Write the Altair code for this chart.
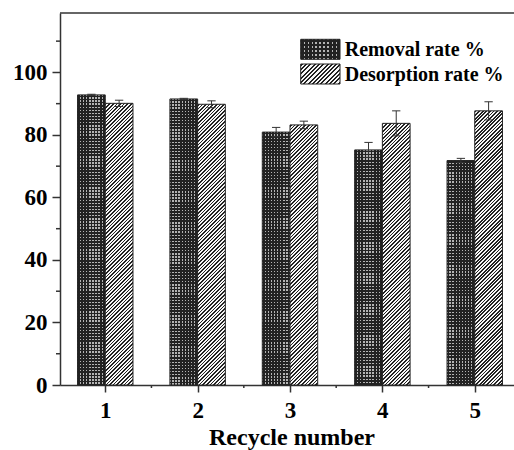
import altair as alt
import pandas as pd

# Recycling test: removal and desorption rates over five cycles
cycles = [1, 2, 3, 4, 5]
removal = [92.8, 91.5, 80.9, 75.2, 71.8]
removal_err = [0.2, 0.2, 1.5, 2.4, 0.7]
desorption = [90.1, 89.8, 83.2, 83.7, 87.7]
desorption_err = [1.0, 1.1, 1.2, 4.0, 2.9]
series_names = ["Removal rate %", "Desorption rate %"]
y_ticks = [0, 20, 40, 60, 80, 100]
y_minor = [10, 30, 50, 70, 90, 110]
x_minor = [1.5, 2.5, 3.5, 4.5]

# Layout and style
W, H = 454, 372
X_DOM = [0.51, 5.425]
Y_DOM = [0, 119]
BAR = 0.3
PX_X = W / (X_DOM[1] - X_DOM[0])
PX_Y = H / (Y_DOM[1] - Y_DOM[0])
FONT = "Liberation Serif"
AX = "#333333"
DARK = "#222222"
CHECK_LIGHT = "#b4b4b4"
HATCH_LIGHT = "#f6f6f6"
CLEAR = "rgba(0,0,0,0)"

rows = []
for i, c in enumerate(cycles):
    rows.append({"cycle": c, "series": series_names[0], "slot": 0,
                 "value": removal[i], "err": removal_err[i]})
    rows.append({"cycle": c, "series": series_names[1], "slot": 1,
                 "value": desorption[i], "err": desorption_err[i]})
df = pd.DataFrame(rows)
one = pd.DataFrame({"k": [0]})


def stripe_stops(length, period, width, dark, light):
    """Hard-edged stripe stops along a gradient of the given pixel length."""
    stops = [{"color": light, "offset": 0}]
    pos = 0.6
    while pos < length:
        a = round(pos / length, 5)
        b = round(min(pos + width, length) / length, 5)
        stops += [{"color": light, "offset": a}, {"color": dark, "offset": a},
                  {"color": dark, "offset": b}, {"color": light, "offset": b}]
        pos += period
    stops.append({"color": light, "offset": 1})
    return stops


def vertical_stripes(w, period):
    return {"gradient": "linear", "x1": 0, "y1": 0, "x2": 1, "y2": 0,
            "stops": stripe_stops(w, period, period * 0.55, DARK, CHECK_LIGHT)}


def horizontal_stripes(h, period):
    return {"gradient": "linear", "x1": 0, "y1": 0, "x2": 0, "y2": 1,
            "stops": stripe_stops(h, period, period * 0.55, DARK, CLEAR)}


def diagonal_hatch(w, h, period):
    # offset follows x + y in pixels, giving "/" lines at 45 degrees
    L = (w * w + h * h) / (w + h)
    return {"gradient": "linear", "x1": 0, "y1": 0,
            "x2": round(w / L, 6), "y2": round(h / L, 6),
            "stops": stripe_stops(w + h, period, period * 0.45, DARK, HATCH_LIGHT)}


xs = alt.Scale(domain=X_DOM, nice=False, zero=False)
ys = alt.Scale(domain=Y_DOM, nice=False, zero=False)

x_axis = alt.Axis(values=cycles, format="d", title="Recycle number", grid=False,
                  tickSize=7, tickWidth=1.5, tickColor=AX, domainColor=AX,
                  domainWidth=1.5, labelFont=FONT, labelFontWeight="bold",
                  labelFontSize=23, labelColor="black", labelPadding=7,
                  labelFlush=False, labelOverlap=False,
                  titleFont=FONT, titleFontWeight="bold", titleFontSize=24,
                  titleColor="black", titleX=231.5, titleY=59,
                  titleAlign="center", titleBaseline="alphabetic")
y_axis = alt.Axis(values=y_ticks, format="d", title="", grid=False,
                  tickSize=8, tickWidth=1.5, tickColor=AX, domainColor=AX,
                  domainWidth=1.5, labelFont=FONT, labelFontWeight="bold",
                  labelFontSize=23, labelColor="black", labelPadding=5,
                  labelFlush=False, labelOverlap=False)

base = alt.Chart(df).transform_calculate(
    x0="datum.cycle + (datum.slot - 1) * %f" % BAR,
    x1="datum.cycle + datum.slot * %f" % BAR,
    xc="datum.cycle + (datum.slot - 0.5) * %f" % BAR,
    cl="datum.cycle + (datum.slot - 0.5) * %f - 0.045" % BAR,
    cr="datum.cycle + (datum.slot - 0.5) * %f + 0.045" % BAR,
    lo="datum.value - datum.err",
    hi="datum.value + datum.err",
)

layers = []
bar_w = BAR * PX_X
for i, c in enumerate(cycles):
    for s, name in enumerate(series_names):
        val = removal[i] if s == 0 else desorption[i]
        h = val * PX_Y
        sel = base.transform_filter(
            (alt.datum.cycle == c) & (alt.datum.series == name))
        enc = dict(x=alt.X("x0:Q", scale=xs, axis=x_axis),
                   x2="x1:Q",
                   y=alt.Y("value:Q", scale=ys, axis=y_axis),
                   y2=alt.datum(0))
        if s == 0:
            layers.append(sel.mark_rect(fill=vertical_stripes(bar_w, 3.1),
                                        strokeWidth=0).encode(**enc))
            layers.append(sel.mark_rect(fill=horizontal_stripes(h, 3.1),
                                        stroke=DARK, strokeWidth=1).encode(**enc))
        else:
            layers.append(sel.mark_rect(fill=diagonal_hatch(bar_w, h, 3.6),
                                        stroke=DARK, strokeWidth=1).encode(**enc))

# Error bars with caps
layers.append(base.mark_rule(stroke=AX, strokeWidth=1).encode(
    x=alt.X("xc:Q", scale=xs, axis=x_axis),
    y=alt.Y("lo:Q", scale=ys, axis=y_axis), y2="hi:Q"))
for end in ["hi", "lo"]:
    layers.append(base.mark_rule(stroke=AX, strokeWidth=1).encode(
        x=alt.X("cl:Q", scale=xs, axis=x_axis), x2="cr:Q",
        y=alt.Y(end + ":Q", scale=ys, axis=y_axis)))

# Minor ticks
layers.append(alt.Chart(pd.DataFrame({"m": x_minor})).mark_rule(
    stroke=AX, strokeWidth=1.5).encode(
    x=alt.X("m:Q", scale=xs, axis=x_axis), y=alt.value(H), y2=alt.value(H + 3)))
layers.append(alt.Chart(pd.DataFrame({"m": y_minor})).mark_rule(
    stroke=AX, strokeWidth=1.5).encode(
    y=alt.Y("m:Q", scale=ys, axis=y_axis), x=alt.value(-4), x2=alt.value(0)))

# Top frame line
layers.append(alt.Chart(one).mark_rule(stroke=AX, strokeWidth=1.5).encode(
    x=alt.value(0), x2=alt.value(W), y=alt.value(0)))

# Legend
sw_x0, sw_x1 = 240.7, 280.0
sw1 = (26.3, 46.3)
sw2 = (51.0, 71.0)
sw_w, sw_h = sw_x1 - sw_x0, 20.0
layers.append(alt.Chart(one).mark_rect(
    fill=vertical_stripes(sw_w, 4.0), strokeWidth=0).encode(
    x=alt.value(sw_x0), x2=alt.value(sw_x1), y=alt.value(sw1[0]), y2=alt.value(sw1[1])))
layers.append(alt.Chart(one).mark_rect(
    fill=horizontal_stripes(sw_h, 4.0), stroke=DARK, strokeWidth=1).encode(
    x=alt.value(sw_x0), x2=alt.value(sw_x1), y=alt.value(sw1[0]), y2=alt.value(sw1[1])))
layers.append(alt.Chart(one).mark_rect(
    fill=diagonal_hatch(sw_w, sw_h, 4.3), stroke=DARK, strokeWidth=1).encode(
    x=alt.value(sw_x0), x2=alt.value(sw_x1), y=alt.value(sw2[0]), y2=alt.value(sw2[1])))
for name, yb in zip(series_names, [42.7, 67.7]):
    layers.append(alt.Chart(one).mark_text(
        font=FONT, fontWeight="bold", fontSize=20, color="black",
        align="left", baseline="alphabetic").encode(
        x=alt.value(284.7), y=alt.value(yb), text=alt.value(name)))

chart = alt.layer(*layers).properties(
    width=W, height=H, autosize="none", background="white",
    padding={"left": 60, "top": 13, "right": 0, "bottom": 65},
).configure_view(strokeWidth=0)

chart.save("out.html", embed_options={"renderer": "svg", "actions": False})
